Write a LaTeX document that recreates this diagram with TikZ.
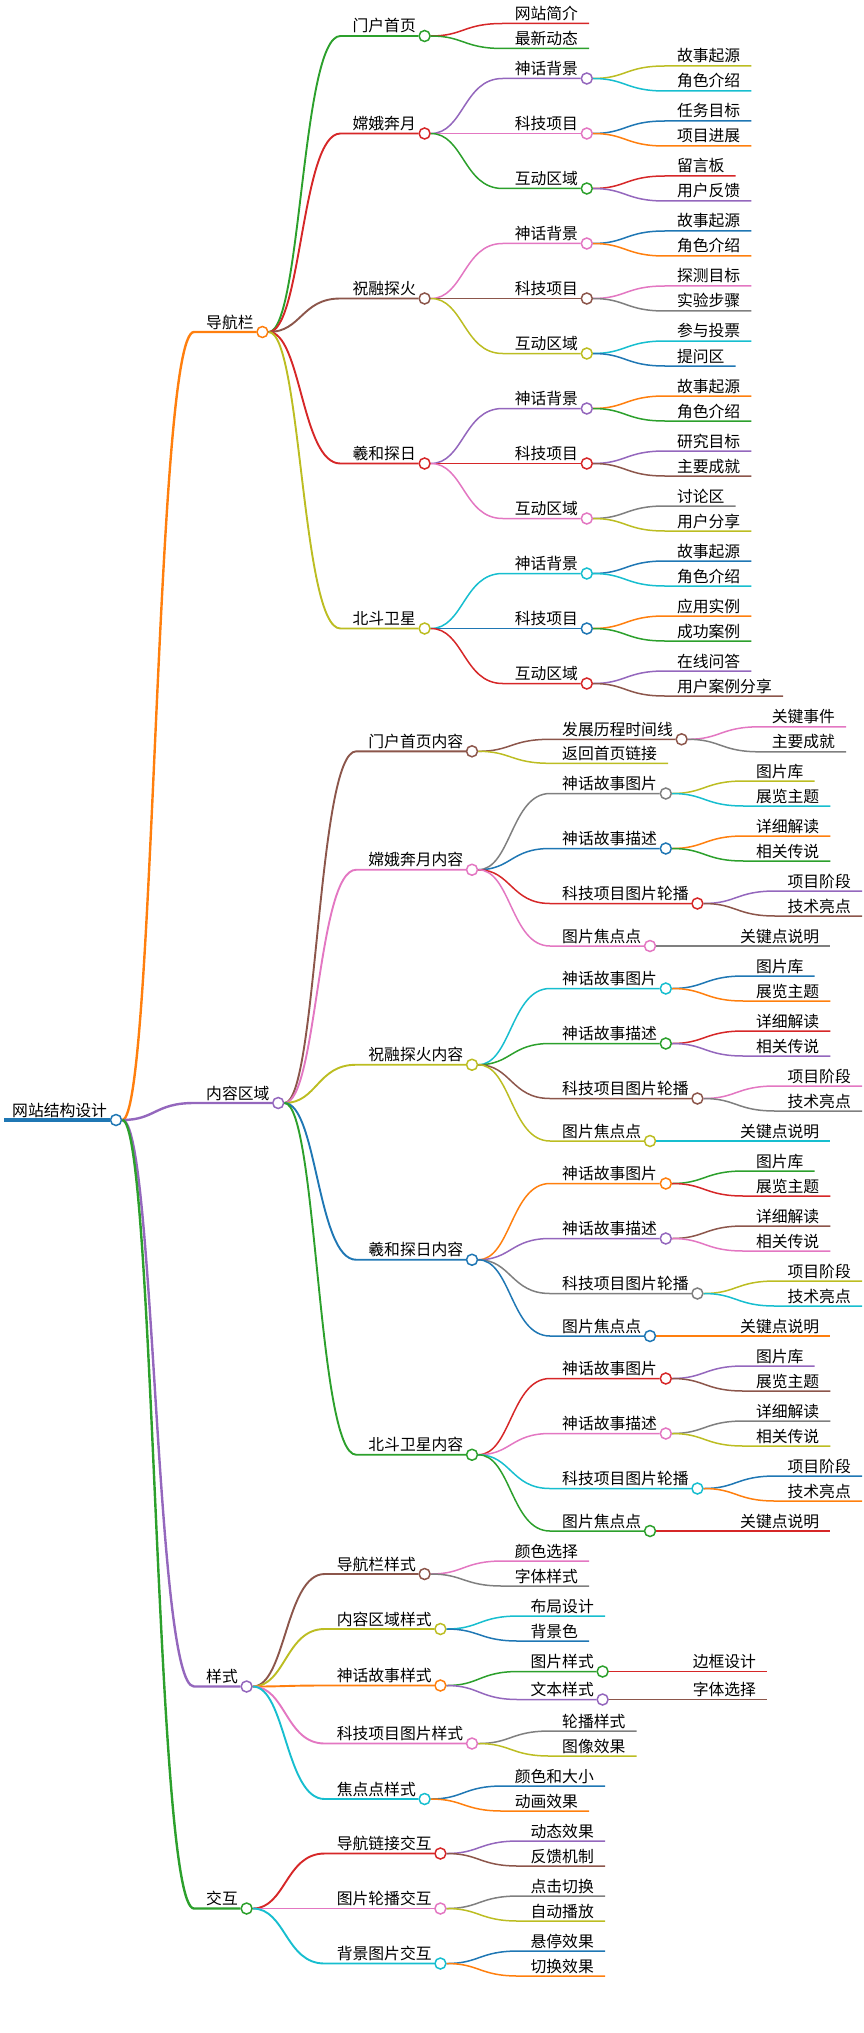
\documentclass[tikz,border=0pt]{standalone}
\usepackage{fontspec}
\setmainfont{Noto Sans CJK SC}
\definecolor{cBlue}{HTML}{1F77B4}
\definecolor{cOrange}{HTML}{FF7F0E}
\definecolor{cGreen}{HTML}{2CA02C}
\definecolor{cRed}{HTML}{D62728}
\definecolor{cPurple}{HTML}{9467BD}
\definecolor{cBrown}{HTML}{8C564B}
\definecolor{cPink}{HTML}{E377C2}
\definecolor{cGray}{HTML}{7F7F7F}
\definecolor{cOlive}{HTML}{BCBD22}
\definecolor{cCyan}{HTML}{17BECF}
\begin{document}
\begin{tikzpicture}[x=1pt,y=-1pt,
  txt/.style={inner sep=0pt,anchor=base west,font=\fontsize{15.8}{18}\selectfont},
  hub/.style={circle,draw=#1,fill=white,line width=1.5pt,inner sep=0pt,minimum size=11pt},
  trunk/.style={draw=#1,line width=2.4pt},
  bough/.style={draw=#1,line width=1.9pt},
  conn/.style={draw=#1,line width=1.5pt}]
\useasboundingbox (0,0) rectangle (864,2033);

% root
\node[txt] (roott) at (12,1116) {网站结构设计};
\node[hub=cBlue] (root) at (116,1120) {};
\draw[cBlue,line width=4.5pt] ([shift={(-8,4)}]roott.base west) -- (root);

% 导航栏
\node[txt] (navt) at (206,328) {导航栏};
\node[hub=cOrange] (nav) at (262.4,332) {};
\draw[trunk=cOrange] (root) .. controls +(39,0) and +(-39,0) .. ([shift={(-12,4)}]navt.base west) -- (nav);

\node[txt] (nav1t) at (352.4,32) {门户首页};
\node[hub=cGreen] (nav1) at (424.6,36) {};
\draw[bough=cGreen] (nav) .. controls +(39,0) and +(-39,0) .. ([shift={(-12,4)}]nav1t.base west) -- (nav1);
\node[txt] (nav1a) at (514.6,19.5) {网站简介};
\draw[conn=cRed] (nav1) .. controls +(39,0) and +(-39,0) .. ([shift={(-12,4)}]nav1a.base west) -- ([shift={(11,4)}]nav1a.base east);
\node[txt] (nav1b) at (514.6,44.5) {最新动态};
\draw[conn=cGreen] (nav1) .. controls +(39,0) and +(-39,0) .. ([shift={(-12,4)}]nav1b.base west) -- ([shift={(11,4)}]nav1b.base east);

\node[txt] (nav2t) at (352.4,129.5) {嫦娥奔月};
\node[hub=cRed] (nav2) at (424.6,133.5) {};
\draw[bough=cRed] (nav) .. controls +(39,0) and +(-39,0) .. ([shift={(-12,4)}]nav2t.base west) -- (nav2);
\node[txt] (nav2at) at (514.6,74.5) {神话背景};
\node[hub=cPurple] (nav2a) at (586.8,78.5) {};
\draw[conn=cPurple] (nav2) .. controls +(39,0) and +(-39,0) .. ([shift={(-12,4)}]nav2at.base west) -- (nav2a);
\node[txt] (nav2a1) at (676.8,62) {故事起源};
\draw[conn=cOlive] (nav2a) .. controls +(39,0) and +(-39,0) .. ([shift={(-12,4)}]nav2a1.base west) -- ([shift={(11,4)}]nav2a1.base east);
\node[txt] (nav2a2) at (676.8,87) {角色介绍};
\draw[conn=cCyan] (nav2a) .. controls +(39,0) and +(-39,0) .. ([shift={(-12,4)}]nav2a2.base west) -- ([shift={(11,4)}]nav2a2.base east);
\node[txt] (nav2bt) at (514.6,129.5) {科技项目};
\node[hub=cPink] (nav2b) at (586.8,133.5) {};
\draw[conn=cPink] (nav2) .. controls +(39,0) and +(-39,0) .. ([shift={(-12,4)}]nav2bt.base west) -- (nav2b);
\node[txt] (nav2b1) at (676.8,117) {任务目标};
\draw[conn=cBlue] (nav2b) .. controls +(39,0) and +(-39,0) .. ([shift={(-12,4)}]nav2b1.base west) -- ([shift={(11,4)}]nav2b1.base east);
\node[txt] (nav2b2) at (676.8,142) {项目进展};
\draw[conn=cOrange] (nav2b) .. controls +(39,0) and +(-39,0) .. ([shift={(-12,4)}]nav2b2.base west) -- ([shift={(11,4)}]nav2b2.base east);
\node[txt] (nav2ct) at (514.6,184.5) {互动区域};
\node[hub=cGreen] (nav2c) at (586.8,188.5) {};
\draw[conn=cGreen] (nav2) .. controls +(39,0) and +(-39,0) .. ([shift={(-12,4)}]nav2ct.base west) -- (nav2c);
\node[txt] (nav2c1) at (676.8,172) {留言板};
\draw[conn=cRed] (nav2c) .. controls +(39,0) and +(-39,0) .. ([shift={(-12,4)}]nav2c1.base west) -- ([shift={(11,4)}]nav2c1.base east);
\node[txt] (nav2c2) at (676.8,197) {用户反馈};
\draw[conn=cPurple] (nav2c) .. controls +(39,0) and +(-39,0) .. ([shift={(-12,4)}]nav2c2.base west) -- ([shift={(11,4)}]nav2c2.base east);

\node[txt] (nav3t) at (352.4,294.5) {祝融探火};
\node[hub=cBrown] (nav3) at (424.6,298.5) {};
\draw[bough=cBrown] (nav) .. controls +(39,0) and +(-39,0) .. ([shift={(-12,4)}]nav3t.base west) -- (nav3);
\node[txt] (nav3at) at (514.6,239.5) {神话背景};
\node[hub=cPink] (nav3a) at (586.8,243.5) {};
\draw[conn=cPink] (nav3) .. controls +(39,0) and +(-39,0) .. ([shift={(-12,4)}]nav3at.base west) -- (nav3a);
\node[txt] (nav3a1) at (676.8,227) {故事起源};
\draw[conn=cBlue] (nav3a) .. controls +(39,0) and +(-39,0) .. ([shift={(-12,4)}]nav3a1.base west) -- ([shift={(11,4)}]nav3a1.base east);
\node[txt] (nav3a2) at (676.8,252) {角色介绍};
\draw[conn=cOrange] (nav3a) .. controls +(39,0) and +(-39,0) .. ([shift={(-12,4)}]nav3a2.base west) -- ([shift={(11,4)}]nav3a2.base east);
\node[txt] (nav3bt) at (514.6,294.5) {科技项目};
\node[hub=cBrown] (nav3b) at (586.8,298.5) {};
\draw[conn=cBrown] (nav3) .. controls +(39,0) and +(-39,0) .. ([shift={(-12,4)}]nav3bt.base west) -- (nav3b);
\node[txt] (nav3b1) at (676.8,282) {探测目标};
\draw[conn=cPink] (nav3b) .. controls +(39,0) and +(-39,0) .. ([shift={(-12,4)}]nav3b1.base west) -- ([shift={(11,4)}]nav3b1.base east);
\node[txt] (nav3b2) at (676.8,307) {实验步骤};
\draw[conn=cGray] (nav3b) .. controls +(39,0) and +(-39,0) .. ([shift={(-12,4)}]nav3b2.base west) -- ([shift={(11,4)}]nav3b2.base east);
\node[txt] (nav3ct) at (514.6,349.5) {互动区域};
\node[hub=cOlive] (nav3c) at (586.8,353.5) {};
\draw[conn=cOlive] (nav3) .. controls +(39,0) and +(-39,0) .. ([shift={(-12,4)}]nav3ct.base west) -- (nav3c);
\node[txt] (nav3c1) at (676.8,337) {参与投票};
\draw[conn=cCyan] (nav3c) .. controls +(39,0) and +(-39,0) .. ([shift={(-12,4)}]nav3c1.base west) -- ([shift={(11,4)}]nav3c1.base east);
\node[txt] (nav3c2) at (676.8,362) {提问区};
\draw[conn=cBlue] (nav3c) .. controls +(39,0) and +(-39,0) .. ([shift={(-12,4)}]nav3c2.base west) -- ([shift={(11,4)}]nav3c2.base east);

\node[txt] (nav4t) at (352.4,459.5) {羲和探日};
\node[hub=cRed] (nav4) at (424.6,463.5) {};
\draw[bough=cRed] (nav) .. controls +(39,0) and +(-39,0) .. ([shift={(-12,4)}]nav4t.base west) -- (nav4);
\node[txt] (nav4at) at (514.6,404.5) {神话背景};
\node[hub=cPurple] (nav4a) at (586.8,408.5) {};
\draw[conn=cPurple] (nav4) .. controls +(39,0) and +(-39,0) .. ([shift={(-12,4)}]nav4at.base west) -- (nav4a);
\node[txt] (nav4a1) at (676.8,392) {故事起源};
\draw[conn=cOrange] (nav4a) .. controls +(39,0) and +(-39,0) .. ([shift={(-12,4)}]nav4a1.base west) -- ([shift={(11,4)}]nav4a1.base east);
\node[txt] (nav4a2) at (676.8,417) {角色介绍};
\draw[conn=cGreen] (nav4a) .. controls +(39,0) and +(-39,0) .. ([shift={(-12,4)}]nav4a2.base west) -- ([shift={(11,4)}]nav4a2.base east);
\node[txt] (nav4bt) at (514.6,459.5) {科技项目};
\node[hub=cRed] (nav4b) at (586.8,463.5) {};
\draw[conn=cRed] (nav4) .. controls +(39,0) and +(-39,0) .. ([shift={(-12,4)}]nav4bt.base west) -- (nav4b);
\node[txt] (nav4b1) at (676.8,447) {研究目标};
\draw[conn=cPurple] (nav4b) .. controls +(39,0) and +(-39,0) .. ([shift={(-12,4)}]nav4b1.base west) -- ([shift={(11,4)}]nav4b1.base east);
\node[txt] (nav4b2) at (676.8,472) {主要成就};
\draw[conn=cBrown] (nav4b) .. controls +(39,0) and +(-39,0) .. ([shift={(-12,4)}]nav4b2.base west) -- ([shift={(11,4)}]nav4b2.base east);
\node[txt] (nav4ct) at (514.6,514.5) {互动区域};
\node[hub=cPink] (nav4c) at (586.8,518.5) {};
\draw[conn=cPink] (nav4) .. controls +(39,0) and +(-39,0) .. ([shift={(-12,4)}]nav4ct.base west) -- (nav4c);
\node[txt] (nav4c1) at (676.8,502) {讨论区};
\draw[conn=cGray] (nav4c) .. controls +(39,0) and +(-39,0) .. ([shift={(-12,4)}]nav4c1.base west) -- ([shift={(11,4)}]nav4c1.base east);
\node[txt] (nav4c2) at (676.8,527) {用户分享};
\draw[conn=cOlive] (nav4c) .. controls +(39,0) and +(-39,0) .. ([shift={(-12,4)}]nav4c2.base west) -- ([shift={(11,4)}]nav4c2.base east);

\node[txt] (nav5t) at (352.4,624.5) {北斗卫星};
\node[hub=cOlive] (nav5) at (424.6,628.5) {};
\draw[bough=cOlive] (nav) .. controls +(39,0) and +(-39,0) .. ([shift={(-12,4)}]nav5t.base west) -- (nav5);
\node[txt] (nav5at) at (514.6,569.5) {神话背景};
\node[hub=cCyan] (nav5a) at (586.8,573.5) {};
\draw[conn=cCyan] (nav5) .. controls +(39,0) and +(-39,0) .. ([shift={(-12,4)}]nav5at.base west) -- (nav5a);
\node[txt] (nav5a1) at (676.8,557) {故事起源};
\draw[conn=cBlue] (nav5a) .. controls +(39,0) and +(-39,0) .. ([shift={(-12,4)}]nav5a1.base west) -- ([shift={(11,4)}]nav5a1.base east);
\node[txt] (nav5a2) at (676.8,582) {角色介绍};
\draw[conn=cCyan] (nav5a) .. controls +(39,0) and +(-39,0) .. ([shift={(-12,4)}]nav5a2.base west) -- ([shift={(11,4)}]nav5a2.base east);
\node[txt] (nav5bt) at (514.6,624.5) {科技项目};
\node[hub=cBlue] (nav5b) at (586.8,628.5) {};
\draw[conn=cBlue] (nav5) .. controls +(39,0) and +(-39,0) .. ([shift={(-12,4)}]nav5bt.base west) -- (nav5b);
\node[txt] (nav5b1) at (676.8,612) {应用实例};
\draw[conn=cOrange] (nav5b) .. controls +(39,0) and +(-39,0) .. ([shift={(-12,4)}]nav5b1.base west) -- ([shift={(11,4)}]nav5b1.base east);
\node[txt] (nav5b2) at (676.8,637) {成功案例};
\draw[conn=cGreen] (nav5b) .. controls +(39,0) and +(-39,0) .. ([shift={(-12,4)}]nav5b2.base west) -- ([shift={(11,4)}]nav5b2.base east);
\node[txt] (nav5ct) at (514.6,679.5) {互动区域};
\node[hub=cRed] (nav5c) at (586.8,683.5) {};
\draw[conn=cRed] (nav5) .. controls +(39,0) and +(-39,0) .. ([shift={(-12,4)}]nav5ct.base west) -- (nav5c);
\node[txt] (nav5c1) at (676.8,667) {在线问答};
\draw[conn=cPurple] (nav5c) .. controls +(39,0) and +(-39,0) .. ([shift={(-12,4)}]nav5c1.base west) -- ([shift={(11,4)}]nav5c1.base east);
\node[txt] (nav5c2) at (676.8,692) {用户案例分享};
\draw[conn=cBrown] (nav5c) .. controls +(39,0) and +(-39,0) .. ([shift={(-12,4)}]nav5c2.base west) -- ([shift={(11,4)}]nav5c2.base east);

% 内容区域
\node[txt] (contt) at (206,1099) {内容区域};
\node[hub=cPurple] (cont) at (278.2,1103) {};
\draw[trunk=cPurple] (root) .. controls +(39,0) and +(-39,0) .. ([shift={(-12,4)}]contt.base west) -- (cont);

\node[txt] (cont1t) at (368.2,747.3) {门户首页内容};
\node[hub=cBrown] (cont1) at (472,751.3) {};
\draw[bough=cBrown] (cont) .. controls +(39,0) and +(-39,0) .. ([shift={(-12,4)}]cont1t.base west) -- (cont1);
\node[txt] (cont1at) at (562,735.3) {发展历程时间线};
\node[hub=cBrown] (cont1a) at (681.6,739.3) {};
\draw[conn=cBrown] (cont1) .. controls +(39,0) and +(-39,0) .. ([shift={(-12,4)}]cont1at.base west) -- (cont1a);
\node[txt] (cont1a1) at (771.6,722.8) {关键事件};
\draw[conn=cPink] (cont1a) .. controls +(39,0) and +(-39,0) .. ([shift={(-12,4)}]cont1a1.base west) -- ([shift={(11,4)}]cont1a1.base east);
\node[txt] (cont1a2) at (771.6,747.8) {主要成就};
\draw[conn=cGray] (cont1a) .. controls +(39,0) and +(-39,0) .. ([shift={(-12,4)}]cont1a2.base west) -- ([shift={(11,4)}]cont1a2.base east);
\node[txt] (cont1b) at (562,759.3) {返回首页链接};
\draw[conn=cOlive] (cont1) .. controls +(39,0) and +(-39,0) .. ([shift={(-12,4)}]cont1b.base west) -- ([shift={(11,4)}]cont1b.base east);

\node[txt] (cont2t) at (368.2,865.75) {嫦娥奔月内容};
\node[hub=cPink] (cont2) at (472,869.75) {};
\draw[bough=cPink] (cont) .. controls +(39,0) and +(-39,0) .. ([shift={(-12,4)}]cont2t.base west) -- (cont2);
\node[txt] (cont2at) at (562,789.5) {神话故事图片};
\node[hub=cGray] (cont2a) at (665.8,793.5) {};
\draw[conn=cGray] (cont2) .. controls +(39,0) and +(-39,0) .. ([shift={(-12,4)}]cont2at.base west) -- (cont2a);
\node[txt] (cont2a1) at (755.8,777) {图片库};
\draw[conn=cOlive] (cont2a) .. controls +(39,0) and +(-39,0) .. ([shift={(-12,4)}]cont2a1.base west) -- ([shift={(11,4)}]cont2a1.base east);
\node[txt] (cont2a2) at (755.8,802) {展览主题};
\draw[conn=cCyan] (cont2a) .. controls +(39,0) and +(-39,0) .. ([shift={(-12,4)}]cont2a2.base west) -- ([shift={(11,4)}]cont2a2.base east);
\node[txt] (cont2bt) at (562,844.5) {神话故事描述};
\node[hub=cBlue] (cont2b) at (665.8,848.5) {};
\draw[conn=cBlue] (cont2) .. controls +(39,0) and +(-39,0) .. ([shift={(-12,4)}]cont2bt.base west) -- (cont2b);
\node[txt] (cont2b1) at (755.8,832) {详细解读};
\draw[conn=cOrange] (cont2b) .. controls +(39,0) and +(-39,0) .. ([shift={(-12,4)}]cont2b1.base west) -- ([shift={(11,4)}]cont2b1.base east);
\node[txt] (cont2b2) at (755.8,857) {相关传说};
\draw[conn=cGreen] (cont2b) .. controls +(39,0) and +(-39,0) .. ([shift={(-12,4)}]cont2b2.base west) -- ([shift={(11,4)}]cont2b2.base east);
\node[txt] (cont2ct) at (562,899.5) {科技项目图片轮播};
\node[hub=cRed] (cont2c) at (697.4,903.5) {};
\draw[conn=cRed] (cont2) .. controls +(39,0) and +(-39,0) .. ([shift={(-12,4)}]cont2ct.base west) -- (cont2c);
\node[txt] (cont2c1) at (787.4,887) {项目阶段};
\draw[conn=cPurple] (cont2c) .. controls +(39,0) and +(-39,0) .. ([shift={(-12,4)}]cont2c1.base west) -- ([shift={(11,4)}]cont2c1.base east);
\node[txt] (cont2c2) at (787.4,912) {技术亮点};
\draw[conn=cBrown] (cont2c) .. controls +(39,0) and +(-39,0) .. ([shift={(-12,4)}]cont2c2.base west) -- ([shift={(11,4)}]cont2c2.base east);
\node[txt] (cont2dt) at (562,942) {图片焦点点};
\node[hub=cPink] (cont2d) at (650,946) {};
\draw[conn=cPink] (cont2) .. controls +(39,0) and +(-39,0) .. ([shift={(-12,4)}]cont2dt.base west) -- (cont2d);
\node[txt] (cont2d1) at (740,942) {关键点说明};
\draw[conn=cGray] (cont2d) -- ([shift={(11,4)}]cont2d1.base east);

\node[txt] (cont3t) at (368.2,1060.75) {祝融探火内容};
\node[hub=cOlive] (cont3) at (472,1064.75) {};
\draw[bough=cOlive] (cont) .. controls +(39,0) and +(-39,0) .. ([shift={(-12,4)}]cont3t.base west) -- (cont3);
\node[txt] (cont3at) at (562,984.5) {神话故事图片};
\node[hub=cCyan] (cont3a) at (665.8,988.5) {};
\draw[conn=cCyan] (cont3) .. controls +(39,0) and +(-39,0) .. ([shift={(-12,4)}]cont3at.base west) -- (cont3a);
\node[txt] (cont3a1) at (755.8,972) {图片库};
\draw[conn=cBlue] (cont3a) .. controls +(39,0) and +(-39,0) .. ([shift={(-12,4)}]cont3a1.base west) -- ([shift={(11,4)}]cont3a1.base east);
\node[txt] (cont3a2) at (755.8,997) {展览主题};
\draw[conn=cOrange] (cont3a) .. controls +(39,0) and +(-39,0) .. ([shift={(-12,4)}]cont3a2.base west) -- ([shift={(11,4)}]cont3a2.base east);
\node[txt] (cont3bt) at (562,1039.5) {神话故事描述};
\node[hub=cGreen] (cont3b) at (665.8,1043.5) {};
\draw[conn=cGreen] (cont3) .. controls +(39,0) and +(-39,0) .. ([shift={(-12,4)}]cont3bt.base west) -- (cont3b);
\node[txt] (cont3b1) at (755.8,1027) {详细解读};
\draw[conn=cRed] (cont3b) .. controls +(39,0) and +(-39,0) .. ([shift={(-12,4)}]cont3b1.base west) -- ([shift={(11,4)}]cont3b1.base east);
\node[txt] (cont3b2) at (755.8,1052) {相关传说};
\draw[conn=cPurple] (cont3b) .. controls +(39,0) and +(-39,0) .. ([shift={(-12,4)}]cont3b2.base west) -- ([shift={(11,4)}]cont3b2.base east);
\node[txt] (cont3ct) at (562,1094.5) {科技项目图片轮播};
\node[hub=cBrown] (cont3c) at (697.4,1098.5) {};
\draw[conn=cBrown] (cont3) .. controls +(39,0) and +(-39,0) .. ([shift={(-12,4)}]cont3ct.base west) -- (cont3c);
\node[txt] (cont3c1) at (787.4,1082) {项目阶段};
\draw[conn=cPink] (cont3c) .. controls +(39,0) and +(-39,0) .. ([shift={(-12,4)}]cont3c1.base west) -- ([shift={(11,4)}]cont3c1.base east);
\node[txt] (cont3c2) at (787.4,1107) {技术亮点};
\draw[conn=cGray] (cont3c) .. controls +(39,0) and +(-39,0) .. ([shift={(-12,4)}]cont3c2.base west) -- ([shift={(11,4)}]cont3c2.base east);
\node[txt] (cont3dt) at (562,1137) {图片焦点点};
\node[hub=cOlive] (cont3d) at (650,1141) {};
\draw[conn=cOlive] (cont3) .. controls +(39,0) and +(-39,0) .. ([shift={(-12,4)}]cont3dt.base west) -- (cont3d);
\node[txt] (cont3d1) at (740,1137) {关键点说明};
\draw[conn=cCyan] (cont3d) -- ([shift={(11,4)}]cont3d1.base east);

\node[txt] (cont4t) at (368.2,1255.75) {羲和探日内容};
\node[hub=cBlue] (cont4) at (472,1259.75) {};
\draw[bough=cBlue] (cont) .. controls +(39,0) and +(-39,0) .. ([shift={(-12,4)}]cont4t.base west) -- (cont4);
\node[txt] (cont4at) at (562,1179.5) {神话故事图片};
\node[hub=cOrange] (cont4a) at (665.8,1183.5) {};
\draw[conn=cOrange] (cont4) .. controls +(39,0) and +(-39,0) .. ([shift={(-12,4)}]cont4at.base west) -- (cont4a);
\node[txt] (cont4a1) at (755.8,1167) {图片库};
\draw[conn=cGreen] (cont4a) .. controls +(39,0) and +(-39,0) .. ([shift={(-12,4)}]cont4a1.base west) -- ([shift={(11,4)}]cont4a1.base east);
\node[txt] (cont4a2) at (755.8,1192) {展览主题};
\draw[conn=cRed] (cont4a) .. controls +(39,0) and +(-39,0) .. ([shift={(-12,4)}]cont4a2.base west) -- ([shift={(11,4)}]cont4a2.base east);
\node[txt] (cont4bt) at (562,1234.5) {神话故事描述};
\node[hub=cPurple] (cont4b) at (665.8,1238.5) {};
\draw[conn=cPurple] (cont4) .. controls +(39,0) and +(-39,0) .. ([shift={(-12,4)}]cont4bt.base west) -- (cont4b);
\node[txt] (cont4b1) at (755.8,1222) {详细解读};
\draw[conn=cBrown] (cont4b) .. controls +(39,0) and +(-39,0) .. ([shift={(-12,4)}]cont4b1.base west) -- ([shift={(11,4)}]cont4b1.base east);
\node[txt] (cont4b2) at (755.8,1247) {相关传说};
\draw[conn=cPink] (cont4b) .. controls +(39,0) and +(-39,0) .. ([shift={(-12,4)}]cont4b2.base west) -- ([shift={(11,4)}]cont4b2.base east);
\node[txt] (cont4ct) at (562,1289.5) {科技项目图片轮播};
\node[hub=cGray] (cont4c) at (697.4,1293.5) {};
\draw[conn=cGray] (cont4) .. controls +(39,0) and +(-39,0) .. ([shift={(-12,4)}]cont4ct.base west) -- (cont4c);
\node[txt] (cont4c1) at (787.4,1277) {项目阶段};
\draw[conn=cOlive] (cont4c) .. controls +(39,0) and +(-39,0) .. ([shift={(-12,4)}]cont4c1.base west) -- ([shift={(11,4)}]cont4c1.base east);
\node[txt] (cont4c2) at (787.4,1302) {技术亮点};
\draw[conn=cCyan] (cont4c) .. controls +(39,0) and +(-39,0) .. ([shift={(-12,4)}]cont4c2.base west) -- ([shift={(11,4)}]cont4c2.base east);
\node[txt] (cont4dt) at (562,1332) {图片焦点点};
\node[hub=cBlue] (cont4d) at (650,1336) {};
\draw[conn=cBlue] (cont4) .. controls +(39,0) and +(-39,0) .. ([shift={(-12,4)}]cont4dt.base west) -- (cont4d);
\node[txt] (cont4d1) at (740,1332) {关键点说明};
\draw[conn=cOrange] (cont4d) -- ([shift={(11,4)}]cont4d1.base east);

\node[txt] (cont5t) at (368.2,1450.75) {北斗卫星内容};
\node[hub=cGreen] (cont5) at (472,1454.75) {};
\draw[bough=cGreen] (cont) .. controls +(39,0) and +(-39,0) .. ([shift={(-12,4)}]cont5t.base west) -- (cont5);
\node[txt] (cont5at) at (562,1374.5) {神话故事图片};
\node[hub=cRed] (cont5a) at (665.8,1378.5) {};
\draw[conn=cRed] (cont5) .. controls +(39,0) and +(-39,0) .. ([shift={(-12,4)}]cont5at.base west) -- (cont5a);
\node[txt] (cont5a1) at (755.8,1362) {图片库};
\draw[conn=cPurple] (cont5a) .. controls +(39,0) and +(-39,0) .. ([shift={(-12,4)}]cont5a1.base west) -- ([shift={(11,4)}]cont5a1.base east);
\node[txt] (cont5a2) at (755.8,1387) {展览主题};
\draw[conn=cBrown] (cont5a) .. controls +(39,0) and +(-39,0) .. ([shift={(-12,4)}]cont5a2.base west) -- ([shift={(11,4)}]cont5a2.base east);
\node[txt] (cont5bt) at (562,1429.5) {神话故事描述};
\node[hub=cPink] (cont5b) at (665.8,1433.5) {};
\draw[conn=cPink] (cont5) .. controls +(39,0) and +(-39,0) .. ([shift={(-12,4)}]cont5bt.base west) -- (cont5b);
\node[txt] (cont5b1) at (755.8,1417) {详细解读};
\draw[conn=cGray] (cont5b) .. controls +(39,0) and +(-39,0) .. ([shift={(-12,4)}]cont5b1.base west) -- ([shift={(11,4)}]cont5b1.base east);
\node[txt] (cont5b2) at (755.8,1442) {相关传说};
\draw[conn=cOlive] (cont5b) .. controls +(39,0) and +(-39,0) .. ([shift={(-12,4)}]cont5b2.base west) -- ([shift={(11,4)}]cont5b2.base east);
\node[txt] (cont5ct) at (562,1484.5) {科技项目图片轮播};
\node[hub=cCyan] (cont5c) at (697.4,1488.5) {};
\draw[conn=cCyan] (cont5) .. controls +(39,0) and +(-39,0) .. ([shift={(-12,4)}]cont5ct.base west) -- (cont5c);
\node[txt] (cont5c1) at (787.4,1472) {项目阶段};
\draw[conn=cBlue] (cont5c) .. controls +(39,0) and +(-39,0) .. ([shift={(-12,4)}]cont5c1.base west) -- ([shift={(11,4)}]cont5c1.base east);
\node[txt] (cont5c2) at (787.4,1497) {技术亮点};
\draw[conn=cOrange] (cont5c) .. controls +(39,0) and +(-39,0) .. ([shift={(-12,4)}]cont5c2.base west) -- ([shift={(11,4)}]cont5c2.base east);
\node[txt] (cont5dt) at (562,1527) {图片焦点点};
\node[hub=cGreen] (cont5d) at (650,1531) {};
\draw[conn=cGreen] (cont5) .. controls +(39,0) and +(-39,0) .. ([shift={(-12,4)}]cont5dt.base west) -- (cont5d);
\node[txt] (cont5d1) at (740,1527) {关键点说明};
\draw[conn=cRed] (cont5d) -- ([shift={(11,4)}]cont5d1.base east);

% 样式
\node[txt] (styt) at (206,1682.5) {样式};
\node[hub=cPurple] (sty) at (246.6,1686.5) {};
\draw[trunk=cPurple] (root) .. controls +(39,0) and +(-39,0) .. ([shift={(-12,4)}]styt.base west) -- (sty);

\node[txt] (sty1t) at (336.6,1570) {导航栏样式};
\node[hub=cBrown] (sty1) at (424.6,1574) {};
\draw[bough=cBrown] (sty) .. controls +(39,0) and +(-39,0) .. ([shift={(-12,4)}]sty1t.base west) -- (sty1);
\node[txt] (sty1a) at (514.6,1557) {颜色选择};
\draw[conn=cPink] (sty1) .. controls +(39,0) and +(-39,0) .. ([shift={(-12,4)}]sty1a.base west) -- ([shift={(11,4)}]sty1a.base east);
\node[txt] (sty1b) at (514.6,1582) {字体样式};
\draw[conn=cGray] (sty1) .. controls +(39,0) and +(-39,0) .. ([shift={(-12,4)}]sty1b.base west) -- ([shift={(11,4)}]sty1b.base east);

\node[txt] (sty2t) at (336.6,1625) {内容区域样式};
\node[hub=cOlive] (sty2) at (440.4,1629) {};
\draw[bough=cOlive] (sty) .. controls +(39,0) and +(-39,0) .. ([shift={(-12,4)}]sty2t.base west) -- (sty2);
\node[txt] (sty2a) at (530.4,1612) {布局设计};
\draw[conn=cCyan] (sty2) .. controls +(39,0) and +(-39,0) .. ([shift={(-12,4)}]sty2a.base west) -- ([shift={(11,4)}]sty2a.base east);
\node[txt] (sty2b) at (530.4,1637) {背景色};
\draw[conn=cBlue] (sty2) .. controls +(39,0) and +(-39,0) .. ([shift={(-12,4)}]sty2b.base west) -- ([shift={(11,4)}]sty2b.base east);

\node[txt] (sty3t) at (336.6,1681.5) {神话故事样式};
\node[hub=cOrange] (sty3) at (440.4,1685.5) {};
\draw[bough=cOrange] (sty) .. controls +(39,0) and +(-39,0) .. ([shift={(-12,4)}]sty3t.base west) -- (sty3);
\node[txt] (sty3at) at (530.4,1667.5) {图片样式};
\node[hub=cGreen] (sty3a) at (602.6,1671.5) {};
\draw[conn=cGreen] (sty3) .. controls +(39,0) and +(-39,0) .. ([shift={(-12,4)}]sty3at.base west) -- (sty3a);
\node[txt] (sty3a1) at (692.6,1667.5) {边框设计};
\draw[conn=cRed] (sty3a) -- ([shift={(11,4)}]sty3a1.base east);
\node[txt] (sty3bt) at (530.4,1695.5) {文本样式};
\node[hub=cPurple] (sty3b) at (602.6,1699.5) {};
\draw[conn=cPurple] (sty3) .. controls +(39,0) and +(-39,0) .. ([shift={(-12,4)}]sty3bt.base west) -- (sty3b);
\node[txt] (sty3b1) at (692.6,1695.5) {字体选择};
\draw[conn=cBrown] (sty3b) -- ([shift={(11,4)}]sty3b1.base east);

\node[txt] (sty4t) at (336.6,1739.5) {科技项目图片样式};
\node[hub=cPink] (sty4) at (472,1743.5) {};
\draw[bough=cPink] (sty) .. controls +(39,0) and +(-39,0) .. ([shift={(-12,4)}]sty4t.base west) -- (sty4);
\node[txt] (sty4a) at (562,1727) {轮播样式};
\draw[conn=cGray] (sty4) .. controls +(39,0) and +(-39,0) .. ([shift={(-12,4)}]sty4a.base west) -- ([shift={(11,4)}]sty4a.base east);
\node[txt] (sty4b) at (562,1752) {图像效果};
\draw[conn=cOlive] (sty4) .. controls +(39,0) and +(-39,0) .. ([shift={(-12,4)}]sty4b.base west) -- ([shift={(11,4)}]sty4b.base east);

\node[txt] (sty5t) at (336.6,1795) {焦点点样式};
\node[hub=cCyan] (sty5) at (424.6,1799) {};
\draw[bough=cCyan] (sty) .. controls +(39,0) and +(-39,0) .. ([shift={(-12,4)}]sty5t.base west) -- (sty5);
\node[txt] (sty5a) at (514.6,1782) {颜色和大小};
\draw[conn=cBlue] (sty5) .. controls +(39,0) and +(-39,0) .. ([shift={(-12,4)}]sty5a.base west) -- ([shift={(11,4)}]sty5a.base east);
\node[txt] (sty5b) at (514.6,1807) {动画效果};
\draw[conn=cOrange] (sty5) .. controls +(39,0) and +(-39,0) .. ([shift={(-12,4)}]sty5b.base west) -- ([shift={(11,4)}]sty5b.base east);

% 交互
\node[txt] (actt) at (206,1904.5) {交互};
\node[hub=cGreen] (act) at (246.6,1908.5) {};
\draw[trunk=cGreen] (root) .. controls +(39,0) and +(-39,0) .. ([shift={(-12,4)}]actt.base west) -- (act);

\node[txt] (act1t) at (336.6,1849.5) {导航链接交互};
\node[hub=cRed] (act1) at (440.4,1853.5) {};
\draw[bough=cRed] (act) .. controls +(39,0) and +(-39,0) .. ([shift={(-12,4)}]act1t.base west) -- (act1);
\node[txt] (act1a) at (530.4,1837) {动态效果};
\draw[conn=cPurple] (act1) .. controls +(39,0) and +(-39,0) .. ([shift={(-12,4)}]act1a.base west) -- ([shift={(11,4)}]act1a.base east);
\node[txt] (act1b) at (530.4,1862) {反馈机制};
\draw[conn=cBrown] (act1) .. controls +(39,0) and +(-39,0) .. ([shift={(-12,4)}]act1b.base west) -- ([shift={(11,4)}]act1b.base east);

\node[txt] (act2t) at (336.6,1904.5) {图片轮播交互};
\node[hub=cPink] (act2) at (440.4,1908.5) {};
\draw[bough=cPink] (act) .. controls +(39,0) and +(-39,0) .. ([shift={(-12,4)}]act2t.base west) -- (act2);
\node[txt] (act2a) at (530.4,1892) {点击切换};
\draw[conn=cGray] (act2) .. controls +(39,0) and +(-39,0) .. ([shift={(-12,4)}]act2a.base west) -- ([shift={(11,4)}]act2a.base east);
\node[txt] (act2b) at (530.4,1917) {自动播放};
\draw[conn=cOlive] (act2) .. controls +(39,0) and +(-39,0) .. ([shift={(-12,4)}]act2b.base west) -- ([shift={(11,4)}]act2b.base east);

\node[txt] (act3t) at (336.6,1959.5) {背景图片交互};
\node[hub=cCyan] (act3) at (440.4,1963.5) {};
\draw[bough=cCyan] (act) .. controls +(39,0) and +(-39,0) .. ([shift={(-12,4)}]act3t.base west) -- (act3);
\node[txt] (act3a) at (530.4,1947) {悬停效果};
\draw[conn=cBlue] (act3) .. controls +(39,0) and +(-39,0) .. ([shift={(-12,4)}]act3a.base west) -- ([shift={(11,4)}]act3a.base east);
\node[txt] (act3b) at (530.4,1972) {切换效果};
\draw[conn=cOrange] (act3) .. controls +(39,0) and +(-39,0) .. ([shift={(-12,4)}]act3b.base west) -- ([shift={(11,4)}]act3b.base east);
\end{tikzpicture}
\end{document}
